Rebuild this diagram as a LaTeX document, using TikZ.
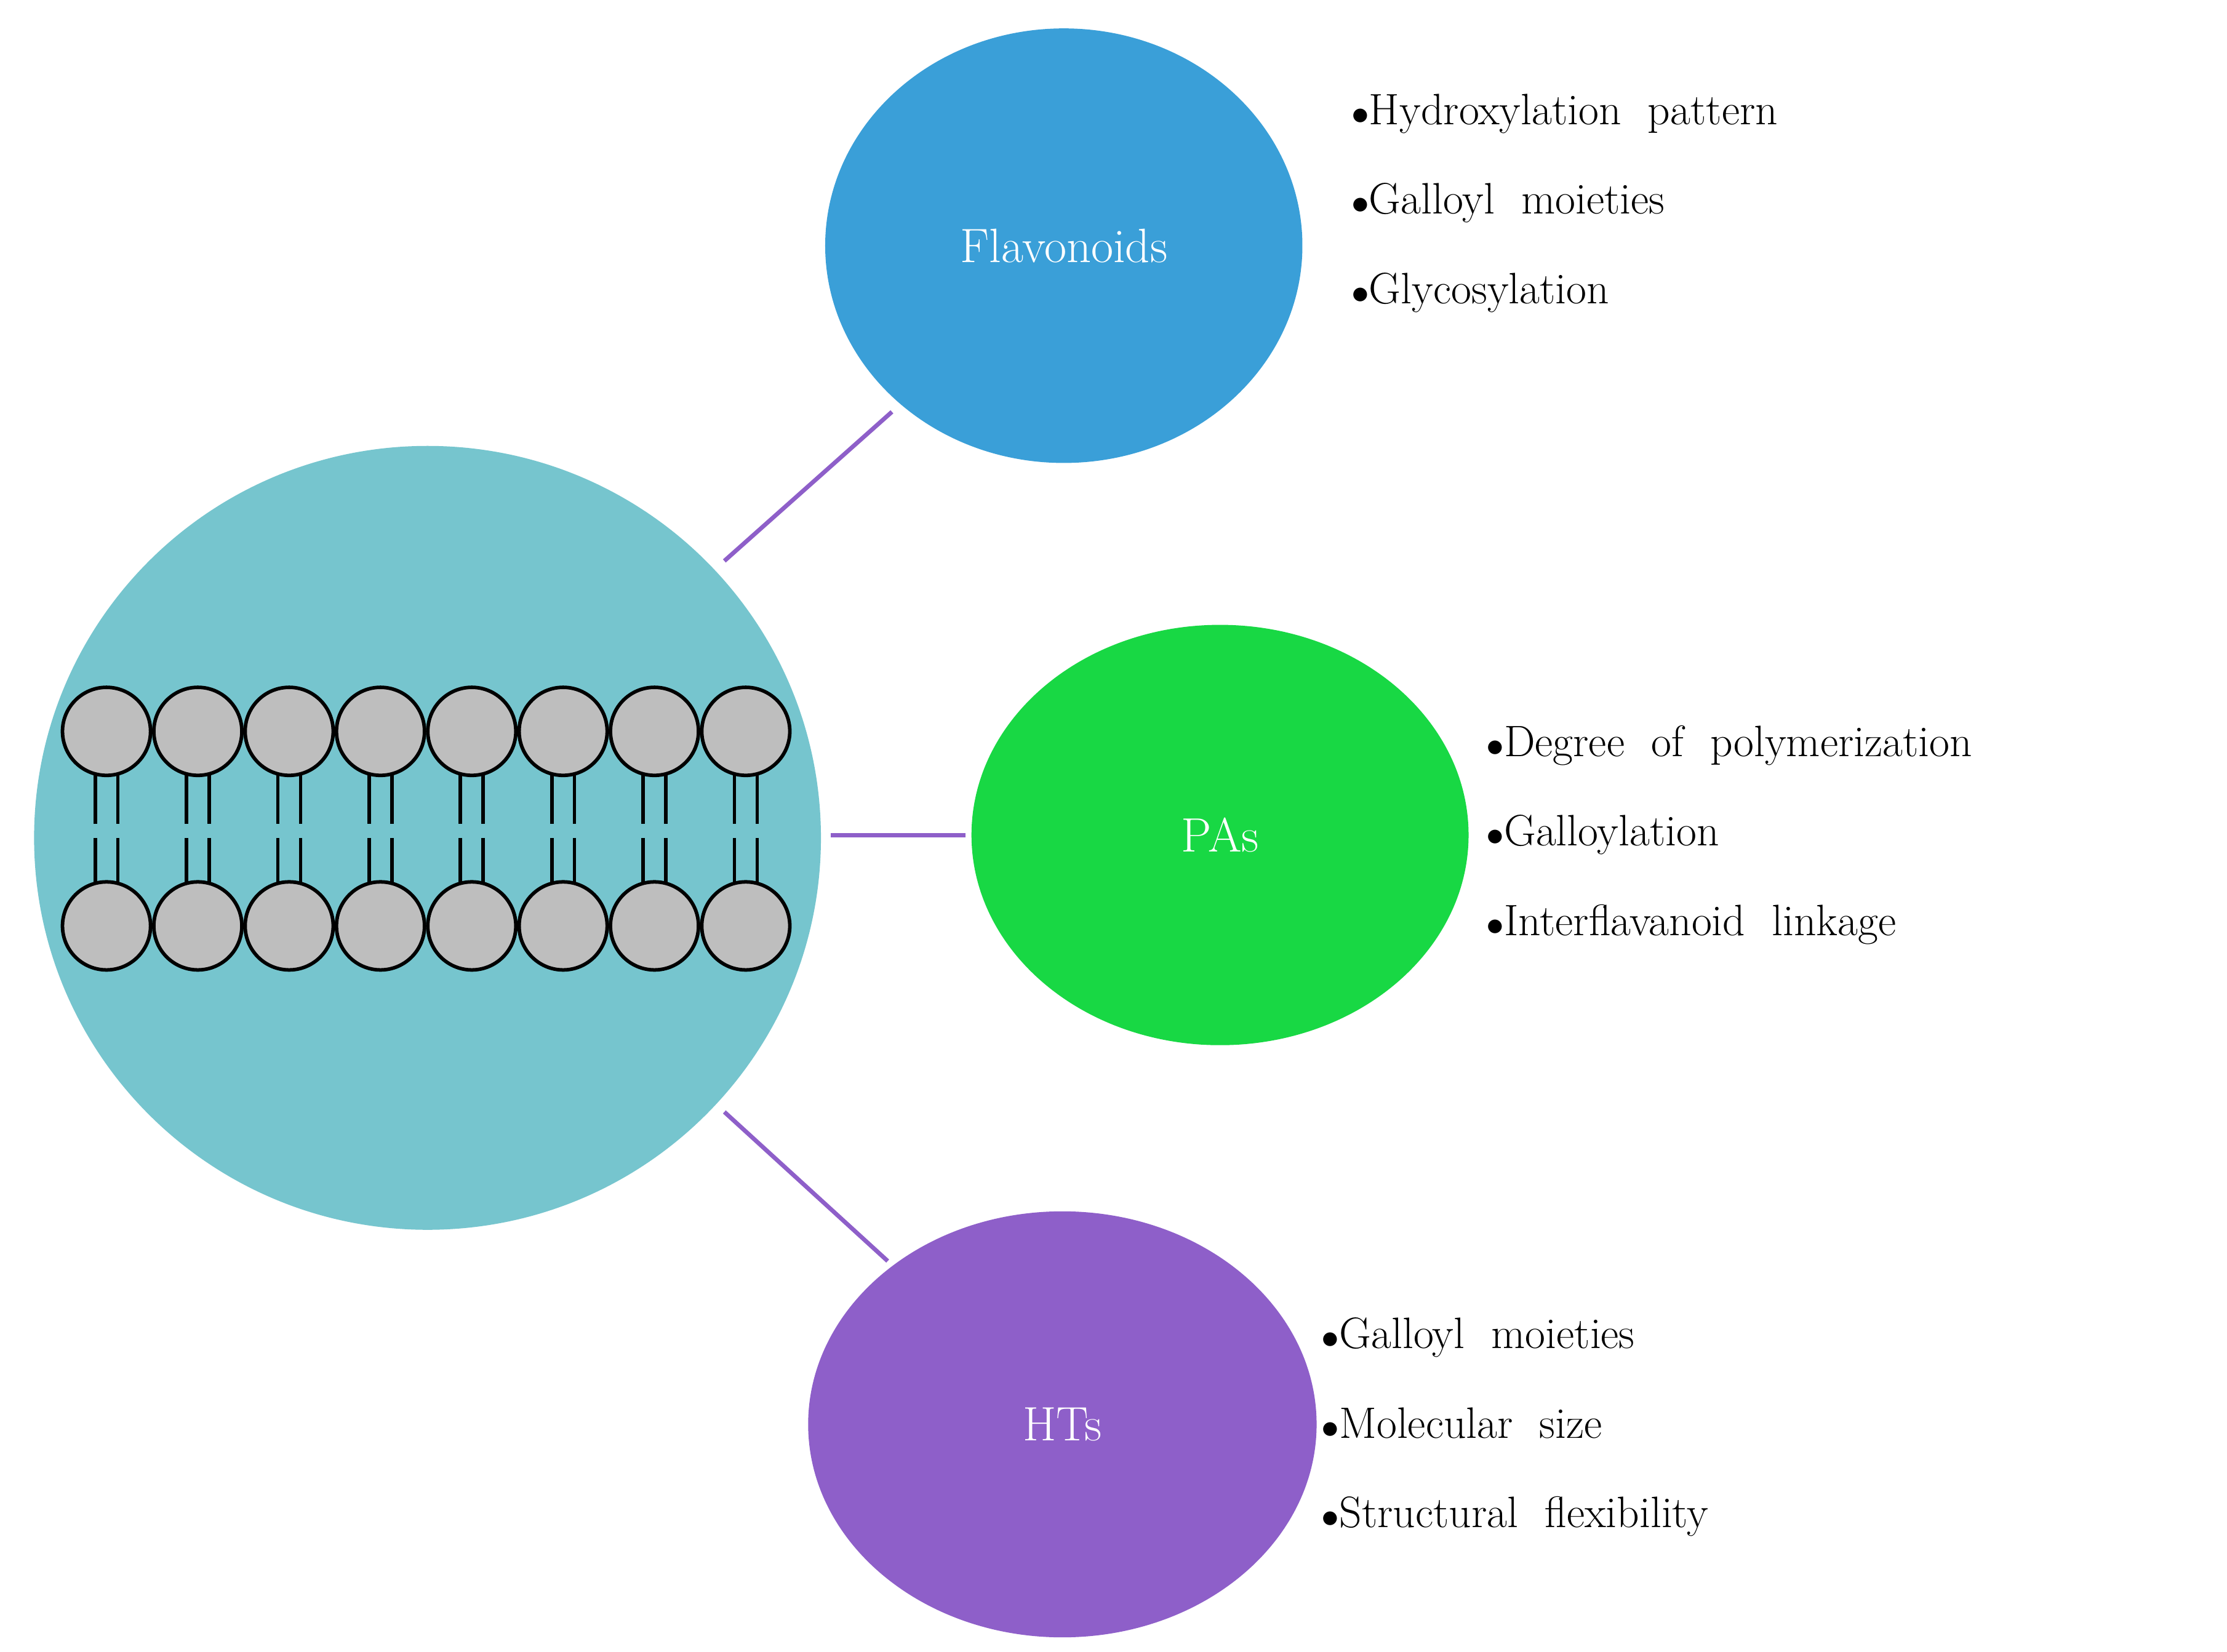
\documentclass[tikz,border=0pt]{standalone}
\usetikzlibrary{shapes.geometric}
\begin{document}
\begin{tikzpicture}[x=1pt,y=-1pt,
  conn/.style={draw=linkc,line width=3pt},
  head/.style={circle,draw=black,line width=2.5pt,fill=headc,minimum size=62pt,inner sep=0pt},
  tail/.style={draw=black,line width=2.5pt},
  lab/.style={text=white,font=\fontsize{34}{40}\selectfont},
  bul/.style={anchor=west,align=left,font=\fontsize{31}{63}\selectfont}]
\definecolor{linkc}{HTML}{8E5FC9}
\definecolor{headc}{HTML}{BEBEBE}
\useasboundingbox (0,0) rectangle (1568,1163);
\fill[white] (0,0) rectangle (1568,1163);
\node[ellipse,fill={rgb,255:red,118;green,197;blue,206},minimum width=554pt,minimum height=552pt,inner sep=0pt] (mem) at (301,590) {};
\node[ellipse,fill={rgb,255:red,58;green,159;blue,216},minimum width=336pt,minimum height=306pt,inner sep=0pt] (fl) at (749,173) {};
\node[lab] at (fl) {Flavonoids};
\node[fill={rgb,255:red,24;green,216;blue,68},minimum width=350pt,minimum height=296pt,inner sep=0pt,ellipse] (pa) at (859,588) {};
\node[lab] at (pa) {PAs};
\node[fill={rgb,255:red,142;green,95;blue,201},minimum width=358pt,minimum height=300pt,inner sep=0pt,ellipse] (ht) at (748,1003) {};
\node[lab] at (ht) {HTs};
\coordinate (a1) at (510,395); \coordinate (a2) at (628,290);
\coordinate (b1) at (585,588); \coordinate (b2) at (680,588);
\coordinate (c1) at (510,783); \coordinate (c2) at (625,888);
\draw[conn] (a1) -- (a2);
\draw[conn] (b1) -- (b2);
\draw[conn] (c1) -- (c2);
\foreach \i in {0,...,7}{
  \pgfmathsetmacro\xx{75+64.3*\i}
  \draw[tail] (\xx-8,540) -- (\xx-8,580) (\xx+8,540) -- (\xx+8,580);
  \draw[tail] (\xx-8,590) -- (\xx-8,630) (\xx+8,590) -- (\xx+8,630);
  \node[head] (t\i) at (\xx,515) {};
  \node[head] (u\i) at (\xx,652) {};
}
\node[bul] (lf) at (948,143) {$\bullet$Hydroxylation\ \ pattern\\$\bullet$Galloyl\ \ moieties\\$\bullet$Glycosylation};
\node[bul] (lp) at (1043,588) {$\bullet$Degree\ \ of\ \ polymerization\\$\bullet$Galloylation\\$\bullet$Interflavanoid\ \ linkage};
\node[bul] (lh) at (927,1005) {$\bullet$Galloyl\ \ moieties\\$\bullet$Molecular\ \ size\\$\bullet$Structural\ \ flexibility};
\end{tikzpicture}
\end{document}
